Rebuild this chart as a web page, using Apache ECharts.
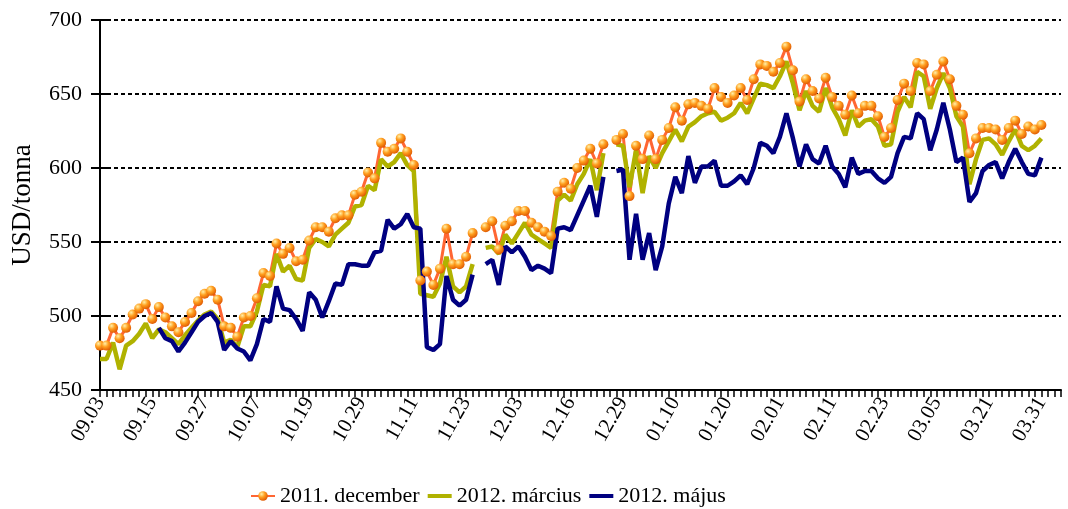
<!DOCTYPE html>
<html>
<head>
<meta charset="utf-8">
<script src="https://cdn.jsdelivr.net/npm/echarts@6/dist/echarts.min.js"></script>
<style>
    html, body { margin: 0; padding: 0; background: #fff; }
    #chart { width: 1068px; height: 509px; }
</style>
</head>
<body>
<div id="chart"></div>
<script>
    // tick labels, one every 8 trading days
    var tickLabels = ['09.03', '09.15', '09.27', '10.07', '10.19', '10.29', '11.11', '11.23', '12.03', '12.16',
        '12.29', '01.10', '01.20', '02.01', '02.11', '02.23', '03.05', '03.21', '03.31'];
    var dayCount = 148;

    var seriesNames = ['2011. december', '2012. március', '2012. május'];

    var dec2011 = [480, 480, 492, 485, 492, 501, 505, 508, 498, 506,
        499, 493, 489, 496, 502, 510, 515, 517, 511, 493,
        492, 486, 499, 500, 512, 529, 527, 549, 542, 546,
        537, 538, 551, 560, 560, 557, 566, 568, 568, 582,
        584, 597, 593, 617, 611, 613, 620, 611, 602, 524,
        530, 521, 532, 559, 535, 535, 540, 556, null, 560,
        564, 545, 561, 564, 571, 571, 563, 560, 557, 554,
        584, 590, 586, 600, 605, 613, 603, 616, null, 619,
        623, 581, 615, 606, 622, 606, 619, 627, 641, 632,
        643, 644, 642, 640, 654, 648, 644, 649, 654, 646,
        660, 670, 669, 665, 671, 682, 666, 645, 660, 652,
        647, 661, 648, 642, 636, 649, 637, 642, 642, 635,
        621, 627, 646, 657, 652, 671, 670, 652, 663, 672,
        660, 642, 636, 610, 620, 627, 627, 626, 619, 627,
        632, 623, 628, 626, 629, null, null, null];

    var mar2012 = [471, 471, 482, 464, 480, 483, 488, 495, 485, 491,
        489, 485, 481, 487, 492, 497, 501, 503, 498, 482,
        484, 479, 493, 493, 503, 521, 520, 542, 530, 534,
        525, 524, 546, 552, 550, 547, 555, 559, 563, 574,
        575, 588, 585, 606, 601, 604, 610, 602, 598, 515,
        514, 513, 522, 540, 520, 516, 520, 535, null, 546,
        547, 542, 555, 549, 556, 563, 555, 552, 549, 546,
        578, 582, 578, 589, 596, 606, 585, 610, null, 616,
        615, 587, 612, 583, 608, 600, 610, 618, 626, 618,
        628, 631, 635, 637, 638, 632, 634, 637, 644, 637,
        647, 657, 656, 654, 662, 672, 657, 639, 652, 642,
        638, 654, 641, 633, 622, 639, 628, 632, 633, 628,
        615, 616, 638, 648, 641, 665, 662, 640, 654, 664,
        654, 635, 628, 589, 606, 619, 620, 616, 609, 618,
        626, 615, 612, 615, 620, null, null, null];

    var may2012 = [null, null, null, null, null, null, null, null, null, 492,
        485, 483, 476, 482, 489, 496, 500, 502, 496, 477,
        483, 478, 476, 470, 481, 498, 496, 520, 505, 504,
        498, 490, 516, 511, 499, 510, 522, 521, 535, 535,
        534, 534, 543, 544, 565, 559, 562, 569, 560, 559,
        479, 477, 481, 527, 511, 507, 511, 528, null, 535,
        538, 521, 547, 543, 547, 540, 531, 534, 532, 529,
        559, 560, 558, 568, 578, 588, 567, 594, null, 598,
        599, 538, 569, 538, 556, 531, 547, 576, 594, 583,
        608, 590, 601, 601, 605, 588, 588, 591, 595, 589,
        600, 617, 615, 610, 621, 637, 620, 601, 616, 606,
        603, 615, 601, 596, 587, 607, 596, 598, 598, 593,
        590, 594, 610, 621, 620, 637, 633, 612, 626, 644,
        626, 604, 607, 577, 583, 598, 602, 604, 593, 604,
        613, 604, 596, 595, 607, null, null, null];

    var categories = [];
    for (var i = 0; i < dayCount; i++) {
        categories.push(i % 8 == 0 && tickLabels[i / 8] ? tickLabels[i / 8] : '');
    }

    var font = '"Liberation Serif", "DejaVu Serif", serif';
    var lineIcon = 'path://M0,0L24,0L24,4L0,4Z';

    var ball = new echarts.graphic.RadialGradient(0.35, 0.3, 0.75, [
        { offset: 0, color: '#FFF0A8' },
        { offset: 0.45, color: '#FF9E1E' },
        { offset: 1, color: '#DD5500' }
    ]);

    var chart = echarts.init(document.getElementById('chart'), null, { renderer: 'canvas' });

    var option = {
        animation: false,
        backgroundColor: '#fff',
        textStyle: { fontFamily: font, color: '#000' },
        grid: {
            left: 100,
            right: 7,
            top: 20,
            bottom: 119
        },
        legend: {
            left: 245,
            top: 480,
            itemWidth: 24,
            itemHeight: 12,
            itemGap: 8,
            textStyle: { fontFamily: font, fontSize: 22, color: '#000' },
            data: [
                { name: seriesNames[0] },
                { name: seriesNames[1], icon: lineIcon },
                { name: seriesNames[2], icon: lineIcon }
            ]
        },
        xAxis: {
            type: 'category',
            boundaryGap: false,
            data: categories,
            axisLine: { lineStyle: { color: '#000', width: 2 } },
            axisTick: { show: true, interval: 0, length: 7, lineStyle: { color: '#000', width: 1.5 } },
            axisLabel: {
                interval: 0,
                rotate: 60,
                margin: 9,
                fontFamily: font,
                fontSize: 21,
                color: '#000'
            },
            splitLine: { show: false }
        },
        yAxis: [
            {
                type: 'value',
                min: 450,
                max: 700,
                interval: 50,
                name: 'USD/tonna',
                nameLocation: 'middle',
                nameGap: 64,
                nameTextStyle: { fontFamily: font, fontSize: 27, color: '#000' },
                axisLine: { show: true, lineStyle: { color: '#000', width: 2 } },
                axisTick: { show: true, length: 9, lineStyle: { color: '#000', width: 2 } },
                axisLabel: { fontFamily: font, fontSize: 22, color: '#000', margin: 18 },
                splitLine: { show: true, lineStyle: { color: '#000', width: 2, type: [4, 3] } }
            },
            {
                // inner half of the crossing ticks
                type: 'value',
                position: 'left',
                min: 450,
                max: 700,
                interval: 50,
                axisLine: { show: false },
                axisTick: { show: true, inside: true, length: 7, lineStyle: { color: '#000', width: 2 } },
                axisLabel: { show: false },
                splitLine: { show: false }
            }
        ],
        series: [
            {
                name: seriesNames[0],
                type: 'line',
                data: dec2011,
                symbol: 'circle',
                symbolSize: 10,
                showAllSymbol: true,
                itemStyle: { color: ball, borderWidth: 0 },
                lineStyle: { color: '#FF6633', width: 3 }
            },
            {
                name: seriesNames[1],
                type: 'line',
                data: mar2012,
                symbol: 'none',
                itemStyle: { color: '#B0B200' },
                lineStyle: { color: '#B0B200', width: 4.5 }
            },
            {
                name: seriesNames[2],
                type: 'line',
                data: may2012,
                symbol: 'none',
                itemStyle: { color: '#000080' },
                lineStyle: { color: '#000080', width: 4.5 }
            }
        ]
    };

    chart.setOption(option, true);
</script>
</body>
</html>
